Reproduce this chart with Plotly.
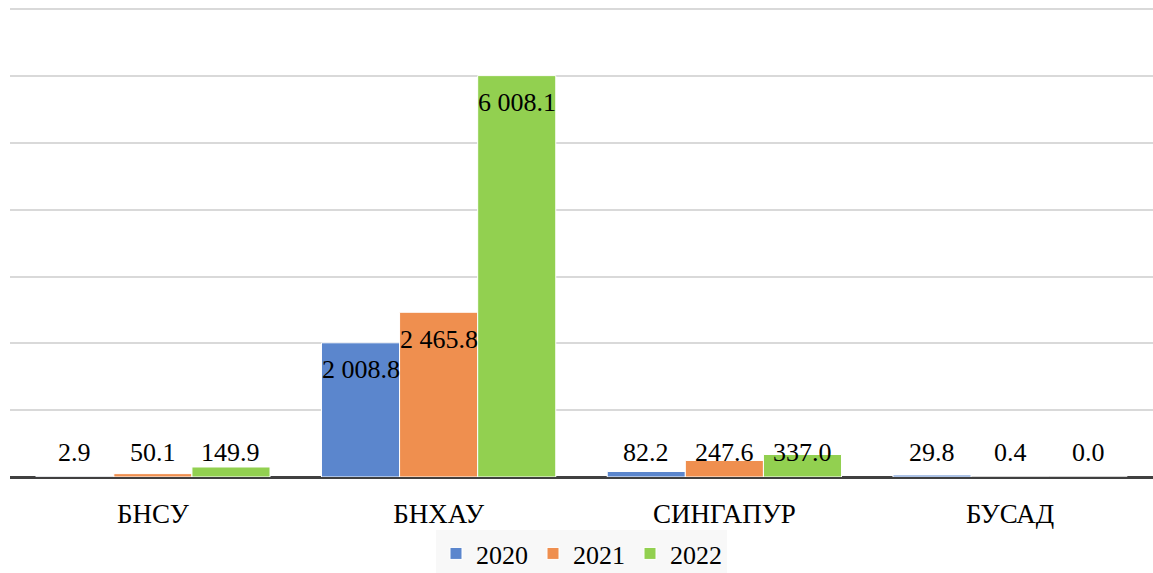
import plotly.graph_objects as go

categories = ["БНСУ", "БНХАУ", "СИНГАПУР", "БУСАД"]
years = ["2020", "2021", "2022"]
values_2020 = [2.9, 2008.8, 82.2, 29.8]
values_2021 = [50.1, 2465.8, 247.6, 0.4]
values_2022 = [149.9, 6008.1, 337.0, 0.0]
labels_2020 = ["2.9", "2 008.8", "82.2", "29.8"]
labels_2021 = ["50.1", "2 465.8", "247.6", "0.4"]
labels_2022 = ["149.9", "6 008.1", "337.0", "0.0"]

series = [values_2020, values_2021, values_2022]
series_labels = [labels_2020, labels_2021, labels_2022]
colors = ["#5B86CD", "#EF8F4F", "#92D050"]

FONT = "Times New Roman"
bargap = 0.18
xs = list(range(len(categories)))

fig = go.Figure()
for yr, vals, col in zip(years, series, colors):
    fig.add_trace(go.Bar(
        x=xs, y=vals, name=yr,
        marker=dict(color=col, line=dict(color="white", width=1)),
    ))

w = (1 - bargap) / 3
for i, (vals, labs) in enumerate(zip(series, series_labels)):
    for j, (v, lab) in enumerate(zip(vals, labs)):
        big = v > 800
        fig.add_annotation(
            x=j + (i - 1) * w, y=v if big else 0,
            yshift=-27 if big else 25,
            text=lab, showarrow=False,
            font=dict(family=FONT, size=26, color="black"),
            xanchor="center", yanchor="middle",
        )

fig.update_layout(
    width=1153, height=573,
    margin=dict(l=10, r=0, t=6, b=96),
    paper_bgcolor="white", plot_bgcolor="white",
    barmode="group", bargap=bargap, bargroupgap=0,
    font=dict(family=FONT, size=26, color="black"),
    showlegend=True,
    legend=dict(
        orientation="h", x=0.5, xanchor="center",
        yref="container", y=0.075, yanchor="top",
        bgcolor="#F8F8F8", font=dict(family=FONT, size=26, color="black"),
        itemwidth=30, traceorder="normal",
    ),
    xaxis=dict(
        range=[-0.5, 3.5], tickvals=xs, ticktext=categories,
        showgrid=False, zeroline=False, showline=False,
        ticks="", ticklabelstandoff=18,
        tickfont=dict(family=FONT, size=27, color="black"),
        fixedrange=True, automargin=False,
    ),
    yaxis=dict(
        range=[0, 7050], dtick=1000, showticklabels=False,
        showgrid=True, gridcolor="#D9D9D9", gridwidth=1.5,
        zeroline=True, zerolinecolor="#404040", zerolinewidth=3,
        showline=False, fixedrange=True, automargin=False,
    ),
)

fig.write_html(
    "out.html",
    config={"displayModeBar": False},
    post_script="document.body.style.margin='0';document.body.style.overflow='hidden';",
)
